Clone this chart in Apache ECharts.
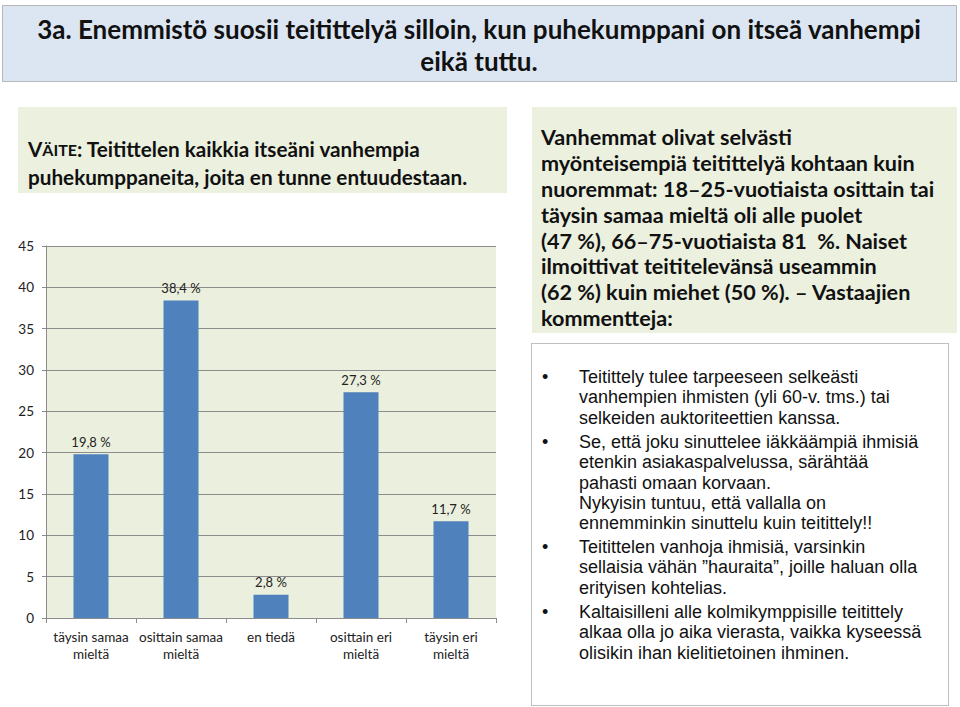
<!DOCTYPE html>
<html>
<head>
<meta charset="utf-8">
<script src="https://cdn.jsdelivr.net/npm/echarts@6/dist/echarts.min.js"></script>
<style>
html,body{margin:0;padding:0;background:#fff;}
#chart{width:960px;height:707px;}
</style>
</head>
<body>
<div id="chart"></div>
<script>
const categories = ['täysin samaa\nmieltä', 'osittain samaa\nmieltä', 'en tiedä', 'osittain eri\nmieltä', 'täysin eri\nmieltä'];
const values = [19.8, 38.4, 2.8, 27.3, 11.7];
const yTicks = { min: 0, max: 45, interval: 5 };

const titleLines = ['3a. Enemmistö suosii teitittelyä silloin, kun puhekumppani on itseä vanhempi', 'eikä tuttu.'];
const claimRest = ': Teitittelen kaikkia itseäni vanhempia\npuhekumppaneita, joita en tunne entuudestaan.';
const summaryText = 'Vanhemmat olivat selvästi\nmyönteisempiä teitittelyä kohtaan kuin\nnuoremmat: 18–25-vuotiaista osittain tai\ntäysin samaa mieltä oli alle puolet\n(47 %), 66–75-vuotiaista 81  %. Naiset\nilmoittivat teititelevänsä useammin\n(62 %) kuin miehet (50 %). – Vastaajien\nkommentteja:';
const comments = [
  'Teitittely tulee tarpeeseen selkeästi\nvanhempien ihmisten (yli 60-v. tms.) tai\nselkeiden auktoriteettien kanssa.',
  'Se, että joku sinuttelee iäkkäämpiä ihmisiä\netenkin asiakaspalvelussa, särähtää\npahasti omaan korvaan.\nNykyisin tuntuu, että vallalla on\nennemminkin sinuttelu kuin teitittely!!',
  'Teitittelen vanhoja ihmisiä, varsinkin\nsellaisia vähän ”hauraita”, joille haluan olla\nerityisen kohtelias.',
  'Kaltaisilleni alle kolmikymppisille teitittely\nalkaa olla jo aika vierasta, vaikka kyseessä\nolisikin ihan kielitietoinen ihminen.'
];
const commentTops = [367, 432, 537, 602];

const FONT = 'Lato, "Open Sans", sans-serif';
const BODY_FONT = '"Liberation Sans", Arial, sans-serif';
const chart = echarts.init(document.getElementById('chart'), null, { renderer: 'svg' });

const graphics = [
  // title box
  { type: 'rect', shape: { x: 2.5, y: 5.5, width: 954, height: 76 }, style: { fill: '#DCE6F2', stroke: '#7F7F7F', lineWidth: 1, lineDash: [1, 1] }, z: 0 },
  { type: 'text', x: 479, y: 29, style: { text: titleLines[0], font: 'bold 26px ' + FONT, fill: '#111', align: 'center', verticalAlign: 'middle' } },
  { type: 'text', x: 479, y: 61, style: { text: titleLines[1], font: 'bold 26px ' + FONT, fill: '#111', align: 'center', verticalAlign: 'middle' } },
  // claim box
  { type: 'rect', shape: { x: 18, y: 107, width: 489, height: 86 }, style: { fill: '#EBF0DF' }, z: 0 },
  { type: 'text', x: 28, y: 135, style: {
      text: '{big|V}{sm|ÄITE}{big|' + claimRest.split('\n')[0] + '}\n{big|' + claimRest.split('\n')[1] + '}',
      fill: '#111',
      rich: {
        big: { font: 'bold 20.7px ' + FONT, fill: '#111', lineHeight: 28 },
        sm: { font: 'bold 16px ' + FONT, fill: '#111', lineHeight: 28 }
      }
  } },
  // summary box
  { type: 'rect', shape: { x: 532, y: 107, width: 425, height: 226 }, style: { fill: '#EBF0DF' }, z: 0 },
  { type: 'text', x: 541, y: 124, style: { text: summaryText, font: 'bold 21.6px ' + FONT, fill: '#111', lineHeight: 25.9 } },
  // comments box
  { type: 'rect', shape: { x: 531.5, y: 343.5, width: 417, height: 362 }, style: { fill: '#fff', stroke: '#7F7F7F', lineWidth: 1, lineDash: [1, 1] }, z: 0 }
];
comments.forEach((c, i) => {
  graphics.push({ type: 'text', x: 542, y: commentTops[i], style: { text: '•', font: '18px ' + BODY_FONT, fill: '#111', lineHeight: 20.3 } });
  graphics.push({ type: 'text', x: 579, y: commentTops[i], style: { text: c, font: '18px ' + BODY_FONT, fill: '#111', lineHeight: 20.3 } });
});

const option = {
  animation: false,
  backgroundColor: '#fff',
  grid: { left: 46, right: 464, top: 246, bottom: 89, show: true, backgroundColor: '#EBEFDD', borderWidth: 0 },
  xAxis: {
    type: 'category',
    data: categories,
    axisLine: { lineStyle: { color: '#8C8C8C' } },
    axisTick: { show: true, length: 5, lineStyle: { color: '#8C8C8C' } },
    axisLabel: { color: '#222', fontFamily: FONT, fontSize: 13.5, lineHeight: 17, margin: 10, interval: 0 }
  },
  yAxis: {
    type: 'value',
    min: yTicks.min, max: yTicks.max, interval: yTicks.interval,
    axisLine: { show: true, lineStyle: { color: '#8C8C8C' } },
    axisTick: { show: true, length: 4, lineStyle: { color: '#8C8C8C' } },
    axisLabel: { color: '#222', fontFamily: FONT, fontSize: 13.5, margin: 12 },
    splitLine: { lineStyle: { color: '#8C8C8C', width: 1 } }
  },
  series: [{
    type: 'bar',
    data: values,
    barWidth: 35,
    itemStyle: { color: '#4F81BD' },
    label: {
      show: true, position: 'top', distance: 6,
      color: '#222', fontFamily: FONT, fontSize: 13,
      formatter: p => String(p.value).replace('.', ',') + ' %'
    }
  }],
  graphic: graphics
};
chart.setOption(option);
</script>
</body>
</html>
